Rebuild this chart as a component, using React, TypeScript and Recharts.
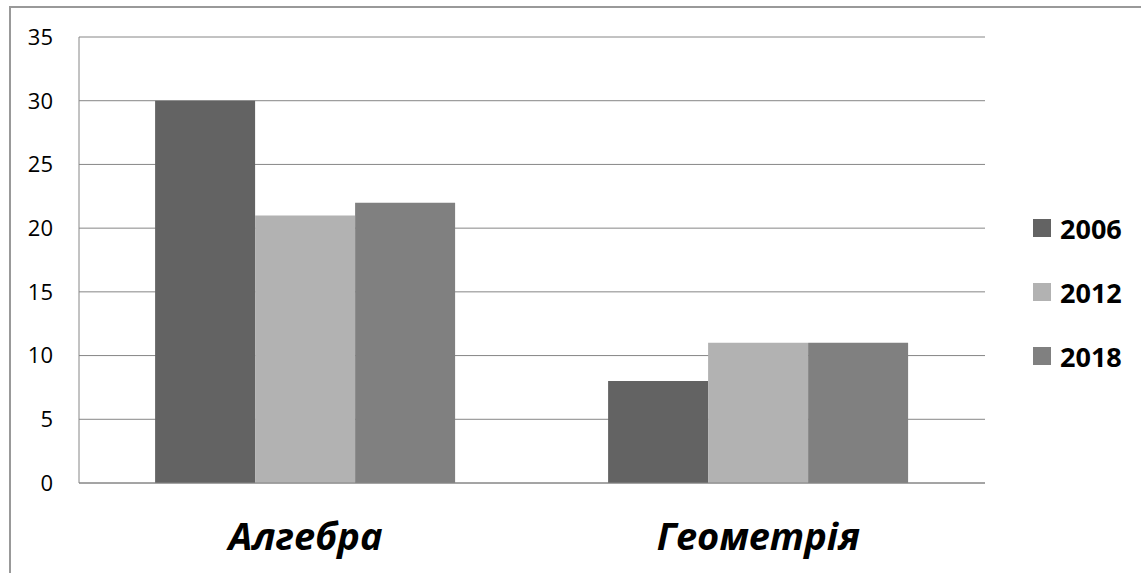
import { BarChart, Bar, XAxis, YAxis, CartesianGrid } from 'recharts';

const subjects = ['Алгебра', 'Геометрія'];
const years = ['2006', '2012', '2018'];
const values2006 = [30, 8];
const values2012 = [21, 11];
const values2018 = [22, 11];
const yTicks = [0, 5, 10, 15, 20, 25, 30, 35];
const colors = ['#636363', '#b2b2b2', '#808080'];

const data = subjects.map((name, i) => ({
  name,
  '2006': values2006[i],
  '2012': values2012[i],
  '2018': values2018[i],
}));

const SubjectTick = (props: any) => {
  const { x, y, payload } = props;
  return (
    <text
      x={x}
      y={y + 67}
      textAnchor="middle"
      fill="#000"
      style={{ fontFamily: '"Open Sans", sans-serif', fontSize: 38, fontWeight: 700, fontStyle: 'italic' }}
    >
      {payload.value}
    </text>
  );
};

export default function App() {
  return (
    <div style={{ position: 'absolute', left: 0, top: 0, width: 1141, height: 573, overflow: 'hidden', background: '#fff' }}>
      <div style={{ position: 'absolute', left: 9, top: 6, width: 1200, height: 700, border: '2px solid #999', boxSizing: 'border-box' }} />
      <div style={{ position: 'absolute', left: 0, top: 0 }}>
        <BarChart
          width={1141}
          height={573}
          data={data}
          margin={{ top: 37, right: 156, bottom: 0, left: 19 }}
          barCategoryGap="16.8%"
          barGap={0}
        >
          <CartesianGrid vertical={false} stroke="#868686" />
          <XAxis
            dataKey="name"
            height={90}
            axisLine={{ stroke: '#868686' }}
            tickLine={false}
            tickSize={0}
            tickMargin={0}
            tick={<SubjectTick />}
          />
          <YAxis
            width={60}
            domain={[0, 35]}
            ticks={yTicks}
            interval={0}
            axisLine={{ stroke: '#868686' }}
            tickLine={false}
            tickSize={0}
            tickMargin={26}
            tick={{ fill: '#000', fontSize: 22, fontFamily: '"Open Sans", sans-serif' }}
          />
          {years.map((y, i) => (
            <Bar key={y} dataKey={y} fill={colors[i]} isAnimationActive={false} />
          ))}
        </BarChart>
      </div>
      <div style={{ position: 'absolute', left: 1033, top: 210 }}>
        {years.map((y, i) => (
          <div key={y} style={{ display: 'flex', alignItems: 'center', height: 36, marginBottom: 28 }}>
            <div style={{ width: 18, height: 18, background: colors[i], marginRight: 9 }} />
            <span style={{ fontFamily: '"Open Sans", sans-serif', fontSize: 27, fontWeight: 700, color: '#000' }}>{y}</span>
          </div>
        ))}
      </div>
    </div>
  );
}
